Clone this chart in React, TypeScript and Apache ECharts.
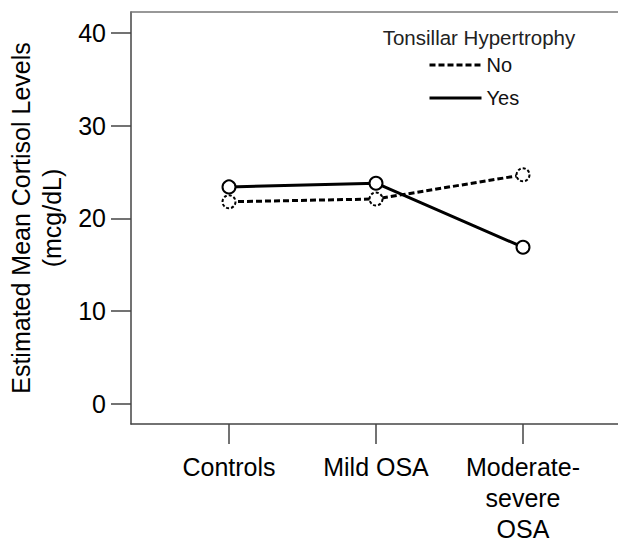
import React, { useEffect, useRef } from "react";
import * as echarts from "echarts";

const categories = ["Controls", "Mild OSA", "Moderate-\nsevere\nOSA"];
const seriesNames = ["No", "Yes"];
const noValues = [21.8, 22.1, 24.7];
const yesValues = [23.4, 23.8, 16.9];
const yTicks = [0, 10, 20, 30, 40];
const yAxisTitle = "Estimated Mean Cortisol Levels\n(mcg/dL)";
const legendTitle = "Tonsillar Hypertrophy";

const FONT = "'Liberation Sans', Arial, sans-serif";

// plot extends past the right edge of the page, as in the reference
const X_MIN = 1 / 3;
const GRID_W = 640;
const PX_PER_UNIT = 147;
const X_MAX = X_MIN + GRID_W / PX_PER_UNIT;

export default function App() {
  const ref = useRef<HTMLDivElement>(null);
  useEffect(() => {
    if (!ref.current) return;
    const chart = echarts.init(ref.current, undefined, { renderer: "svg" });
    const xPositions = categories.map((_, i) => i + 1);
    chart.setOption({
      animation: false,
      backgroundColor: "#fff",
      textStyle: { fontFamily: FONT },
      grid: {
        left: 131,
        top: 12,
        width: GRID_W,
        height: 412,
        show: false,
        containLabel: false,
        outerBoundsMode: "none",
      },
      legend: {
        orient: "vertical",
        left: 428,
        top: 55,
        padding: 0,
        itemWidth: 52,
        itemHeight: 20,
        itemGap: 13,
        data: seriesNames,
        itemStyle: { opacity: 0 },
        lineStyle: { width: 3 },
        textStyle: { fontSize: 20, color: "#111", fontFamily: FONT },
      },
      graphic: [
        {
          type: "text",
          x: 479,
          y: 37,
          style: {
            text: legendTitle,
            fontSize: 20.5,
            fontFamily: FONT,
            fill: "#222",
            textAlign: "center",
            textVerticalAlign: "middle",
          },
        },
      ],
      xAxis: [
        {
          type: "value",
          min: X_MIN,
          max: X_MAX,
          splitLine: { show: false },
          axisLine: { show: true, onZero: false, lineStyle: { color: "#444", width: 1.5 } },
          axisTick: {
            show: true,
            length: 20,
            customValues: xPositions,
            lineStyle: { color: "#444", width: 1.5 },
          },
          axisLabel: {
            customValues: xPositions,
            margin: 27,
            fontSize: 25,
            lineHeight: 31,
            color: "#000",
            fontFamily: FONT,
            formatter: (v: number) => categories[Math.round(v) - 1] ?? "",
          },
        },
        {
          type: "value",
          position: "top",
          min: X_MIN,
          max: X_MAX,
          splitLine: { show: false },
          axisLine: { show: true, onZero: false, lineStyle: { color: "#777", width: 1.5 } },
          axisTick: { show: false },
          axisLabel: { show: false },
        },
      ],
      yAxis: {
        type: "value",
        min: -2.16,
        max: 42.26,
        splitLine: { show: false },
        axisLine: { show: true, onZero: false, lineStyle: { color: "#444", width: 1.5 } },
        axisTick: {
          show: true,
          length: 20,
          customValues: yTicks,
          lineStyle: { color: "#444", width: 1.5 },
        },
        axisLabel: {
          customValues: yTicks,
          margin: 25,
          fontSize: 25,
          color: "#000",
          fontFamily: FONT,
        },
        name: yAxisTitle,
        nameLocation: "middle",
        nameRotate: 90,
        nameGap: 63,
        nameTextStyle: {
          fontSize: 25,
          lineHeight: 31,
          color: "#000",
          fontFamily: FONT,
          align: "center",
        },
      },
      series: [
        {
          name: seriesNames[0],
          type: "line",
          xAxisIndex: 0,
          data: xPositions.map((x, i) => [x, noValues[i]]),
          symbol: "emptyCircle",
          symbolSize: 13,
          lineStyle: { color: "#000", width: 3, type: [6, 3] },
          itemStyle: { color: "#000", borderColor: "#000", borderWidth: 3, borderType: [3, 2] },
          z: 2,
        },
        {
          name: seriesNames[1],
          type: "line",
          xAxisIndex: 0,
          data: xPositions.map((x, i) => [x, yesValues[i]]),
          symbol: "emptyCircle",
          symbolSize: 13,
          lineStyle: { color: "#000", width: 3 },
          itemStyle: { color: "#000", borderColor: "#000", borderWidth: 3 },
          z: 3,
        },
      ],
    });
    return () => chart.dispose();
  }, []);
  return (
    <div
      ref={ref}
      style={{ position: "fixed", left: 0, top: 0, width: 618, height: 541 }}
    />
  );
}
